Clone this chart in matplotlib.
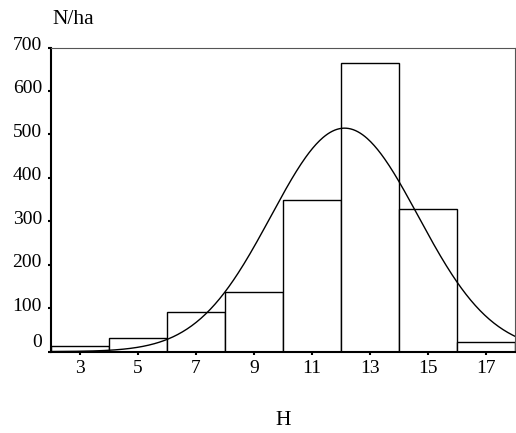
import numpy as np
import matplotlib
matplotlib.use("Agg")
import matplotlib.pyplot as plt
import matplotlib.transforms as mtransforms

plt.rcParams['font.family'] = ['Liberation Serif', 'DejaVu Serif']

bin_edges = [2, 4, 6, 8, 10, 12, 14, 16, 18]
counts = [12, 32, 91, 138, 350, 664, 328, 22]
xticks = [3, 5, 7, 9, 11, 13, 15, 17]
yticks = [0, 100, 200, 300, 400, 500, 600, 700]

fig = plt.figure(figsize=(5.16, 4.33), dpi=100)
ax = fig.add_axes([0.0988, 0.188, 0.899, 0.702])

left = np.array(bin_edges[:-1])
width = np.diff(bin_edges)
ax.bar(left, counts, width=width, align='edge', facecolor='white',
       edgecolor='black', linewidth=1.0)

# Normal curve fitted to the histogram data
mids = left + width / 2
w = np.array(counts, dtype=float)
mean = np.sum(w * mids) / w.sum()
sd = np.sqrt(np.sum(w * (mids - mean) ** 2) / w.sum())
xs = np.linspace(bin_edges[0], bin_edges[-1], 400)
ys = w.sum() * width[0] / (sd * np.sqrt(2 * np.pi)) * np.exp(-(xs - mean) ** 2 / (2 * sd ** 2))
ax.plot(xs, ys, color='black', linewidth=1.0)

ax.set_xlim(bin_edges[0], bin_edges[-1])
ax.set_ylim(0, 700)
ax.set_xticks(xticks)
ax.set_yticks(yticks)
ax.tick_params(axis='both', labelsize=14, length=2, width=1.5, direction='out')
ax.tick_params(axis='y', pad=4.5)
ax.tick_params(axis='x', pad=4)
for s in ['left', 'bottom']:
    ax.spines[s].set_linewidth(1.5)
for s in ['top', 'right']:
    ax.spines[s].set_linewidth(0.8)
    ax.spines[s].set_color('#555555')

# y tick labels sit slightly above their ticks in the reference
for val, lab in zip(yticks, ax.get_yticklabels()):
    dy = 8 if val == 0 else 3
    lab.set_transform(lab.get_transform() +
                      mtransforms.ScaledTranslation(0, dy / 72, fig.dpi_scale_trans))

fig.text(0.1415, 0.954, 'N/ha', fontsize=15.5, ha='center', va='center')
fig.text(0.548, 0.030, 'H', fontsize=15.5, ha='center', va='center')

fig.savefig('out.png', dpi=100)
